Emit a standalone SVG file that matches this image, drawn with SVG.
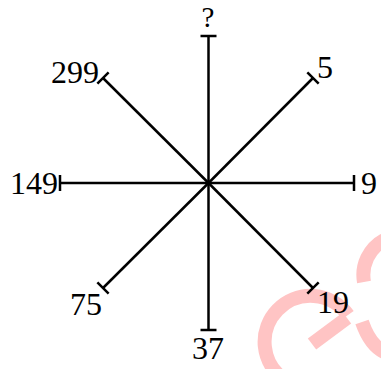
<svg xmlns="http://www.w3.org/2000/svg" width="381" height="369" viewBox="0 0 381 369">
<style>
.arm{stroke:#000;stroke-width:2.5;fill:none;marker-end:url(#bar)}
.lbl{font-family:"Liberation Serif","Times New Roman",serif;font-size:32px;fill:#000}
.wm{fill:none;stroke:#ffc4c4;stroke-width:14}
</style>
<defs>
<marker id="bar" viewBox="0 0 20 20" refX="10" refY="10" markerWidth="20" markerHeight="20" markerUnits="userSpaceOnUse" orient="auto">
<path d="M10,2 L10,18" stroke="#000" stroke-width="2.5"/>
</marker>
</defs>
<rect width="381" height="369" fill="#fff"/>
<g id="watermark">
<path class="wm" d="M285,380 A46,46 0 1 1 348,315"/>
<path class="wm" d="M312,344 L347,318"/>
<path class="wm" d="M384,240 A40,40 0 0 0 364,282"/>
<path class="wm" d="M362,322 Q370,345 384,352"/>
</g>
<g id="connectors">
<line class="arm" x1="208.5" y1="183" x2="208.5" y2="36"/>
<line class="arm" x1="208.5" y1="183" x2="313" y2="78"/>
<line class="arm" x1="208.5" y1="183" x2="354" y2="183"/>
<line class="arm" x1="208.5" y1="183" x2="313" y2="288"/>
<line class="arm" x1="208.5" y1="183" x2="208.5" y2="330"/>
<line class="arm" x1="208.5" y1="183" x2="103" y2="288"/>
<line class="arm" x1="208.5" y1="183" x2="60" y2="183"/>
<line class="arm" x1="208.5" y1="183" x2="103" y2="78"/>
</g>
<g id="n-top"><text class="lbl" x="208" y="27" text-anchor="middle" style="font-size:29px">?</text></g>
<g id="n-ur"><text class="lbl" x="317" y="78">5</text></g>
<g id="n-right"><text class="lbl" x="361" y="194">9</text></g>
<g id="n-lr"><text class="lbl" x="317" y="313">19</text></g>
<g id="n-bottom"><text class="lbl" x="208" y="359" text-anchor="middle">37</text></g>
<g id="n-ll"><text class="lbl" x="102" y="315" text-anchor="end">75</text></g>
<g id="n-left"><text class="lbl" x="58" y="194" text-anchor="end">149</text></g>
<g id="n-ul"><text class="lbl" x="99" y="83" text-anchor="end">299</text></g>
</svg>
